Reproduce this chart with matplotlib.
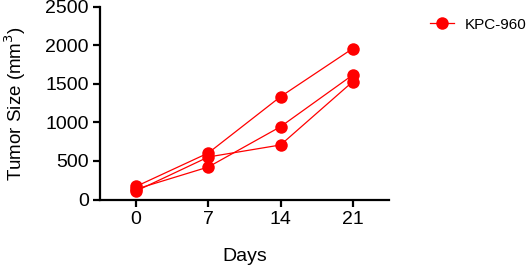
import matplotlib
matplotlib.use("Agg")
import matplotlib.pyplot as plt

plt.rcParams['font.family'] = ['Liberation Sans', 'DejaVu Sans']

days = [0, 7, 14, 21]
mouse_1 = [170, 604, 1335, 1960]
mouse_2 = [110, 552, 708, 1530]
mouse_3 = [135, 422, 945, 1617]
series_label = "KPC-960"
yticks = [0, 500, 1000, 1500, 2000, 2500]

fig = plt.figure(figsize=(5.30, 2.66), dpi=100)
ax = fig.add_axes([0.1887, 0.25, 0.545, 0.724])

red = '#ff0000'
for i, m in enumerate([mouse_1, mouse_2, mouse_3]):
    ax.plot(days, m, color=red, lw=0.9, marker='o', markersize=9,
            markeredgewidth=0, label=series_label if i == 0 else None,
            clip_on=False, zorder=3)

ax.set_xlim(-3.5, 24.5)
ax.set_ylim(0, 2500)
ax.set_xticks(days)
ax.set_yticks(yticks)
for s in ['top', 'right']:
    ax.spines[s].set_visible(False)
for s in ['left', 'bottom']:
    ax.spines[s].set_linewidth(1.6)
ax.tick_params(axis='both', width=1.6, length=5, labelsize=14, pad=3)
ax.set_xlabel('Days', fontsize=14, labelpad=15)
ax.set_ylabel('Tumor Size (mm$^3$)', fontsize=13.5)
ax.yaxis.set_label_coords(-0.25, 0.5)

leg = fig.legend(loc='upper left', bbox_to_anchor=(0.785, 0.985), frameon=False,
                 fontsize=11, handlelength=1.6, handletextpad=0.7)

fig.savefig('out.png', dpi=100)
